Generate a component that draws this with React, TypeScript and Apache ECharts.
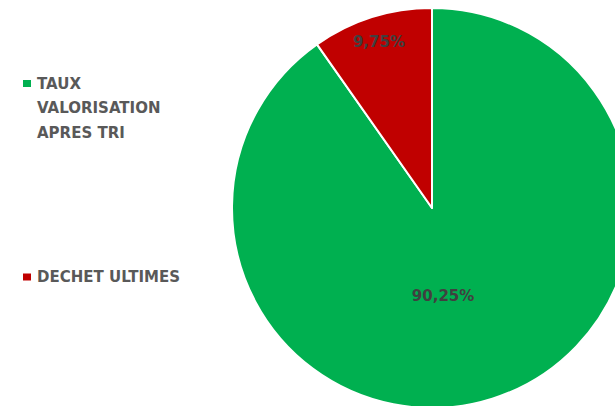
import React, { useEffect, useRef } from 'react';
import * as echarts from 'echarts';

const categories = ['TAUX VALORISATION APRES TRI', 'DECHET ULTIMES'];
const legendLines = [['TAUX', 'VALORISATION', 'APRES TRI'], ['DECHET ULTIMES']];
const values = [90.25, 9.75];
const colors = ['#00B050', '#C00000'];

const FONT = '"DejaVu Sans", sans-serif';

export default function App() {
  const ref = useRef<HTMLDivElement>(null);

  useEffect(() => {
    if (!ref.current) return;
    const chart = echarts.init(ref.current, undefined, { renderer: 'svg' });

    const legendCenters = [83.5, 277];
    const lineH = 24.5;
    const graphics: any[] = [];
    categories.forEach((_, i) => {
      const cy = legendCenters[i];
      graphics.push({
        type: 'rect',
        left: 23,
        top: cy - 3.5,
        shape: { x: 0, y: 0, width: 8, height: 7 },
        style: { fill: colors[i] },
      });
      graphics.push({
        type: 'text',
        left: 37,
        top: cy - lineH / 2,
        style: {
          text: legendLines[i].join('\n'),
          font: `bold 15px ${FONT}`,
          fill: '#595959',
          lineHeight: lineH,
          verticalAlign: 'top',
        },
      });
    });

    const labelShift = [
      { dx: -20, dy: -10 },
      { dx: -22, dy: -68 },
    ];

    chart.setOption({
      animation: false,
      backgroundColor: '#ffffff',
      color: colors,
      graphic: graphics,
      series: [
        {
          type: 'pie',
          center: [432, 208],
          radius: 200,
          startAngle: 90,
          clockwise: true,
          data: categories.map((name, i) => ({ name, value: values[i] })),
          itemStyle: { borderColor: '#ffffff', borderWidth: 2 },
          label: {
            show: true,
            position: 'inside',
            formatter: (p: any) => `${Number(p.value).toFixed(2).replace('.', ',')}%`,
            fontFamily: FONT,
            fontWeight: 'bold',
            fontSize: 15,
            color: '#404040',
          },
          labelLine: { show: false },
          labelLayout: (p: any) => labelShift[p.dataIndex],
          emphasis: { disabled: true },
        },
      ],
    });

    return () => chart.dispose();
  }, []);

  return (
    <div
      ref={ref}
      style={{ position: 'absolute', left: 0, top: 0, width: 615, height: 406, background: '#fff' }}
    />
  );
}
